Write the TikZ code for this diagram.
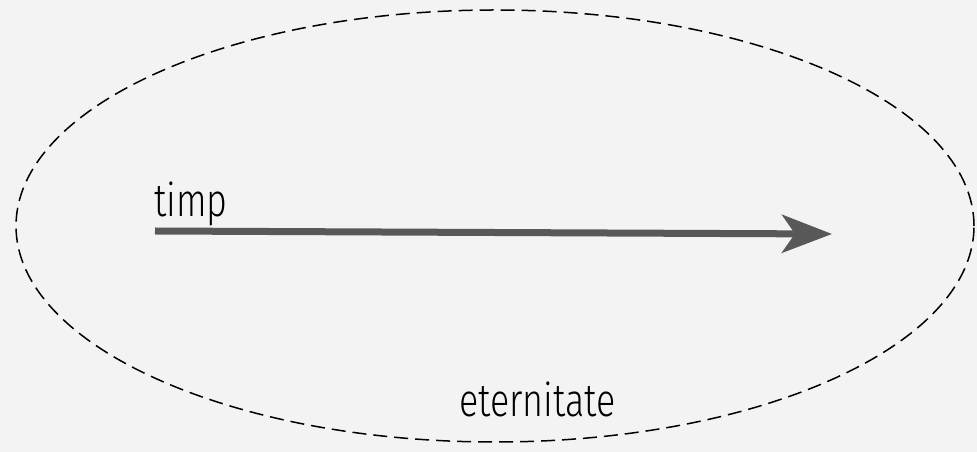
\documentclass[tikz,border=0pt]{standalone}
\usepackage{fontspec}
\newfontfamily\labelfont{Fira Sans Light}[FakeStretch=0.78]
\usetikzlibrary{arrows.meta}
\definecolor{bggrey}{RGB}{243,243,243}
\definecolor{arrowgrey}{RGB}{88,88,88}

\begin{document}
\begin{tikzpicture}[x=1pt,y=1pt,line cap=butt,line join=round]
        \fill[bggrey] (0,0) rectangle (977,452);
        \useasboundingbox (0,0) rectangle (977,452);

        \draw[black,line width=1.5pt,dash pattern=on 14pt off 7pt]
            (495,226) ellipse [x radius=479,y radius=216];

        \coordinate (start) at (155,221);
        \coordinate (end) at (832,218);
        \draw[arrowgrey,line width=7pt,-{Stealth[length=50pt,width=38pt,inset=13pt]}]
            (start) -- (end);

        \node[anchor=base west,inner sep=0pt,font=\labelfont\fontsize{46}{46}\selectfont]
            (timp) at (154,235) {timp};
        \node[anchor=base west,inner sep=0pt,font=\labelfont\fontsize{46}{46}\selectfont]
            (eternitate) at (459,35) {eternitate};
\end{tikzpicture}
\end{document}
